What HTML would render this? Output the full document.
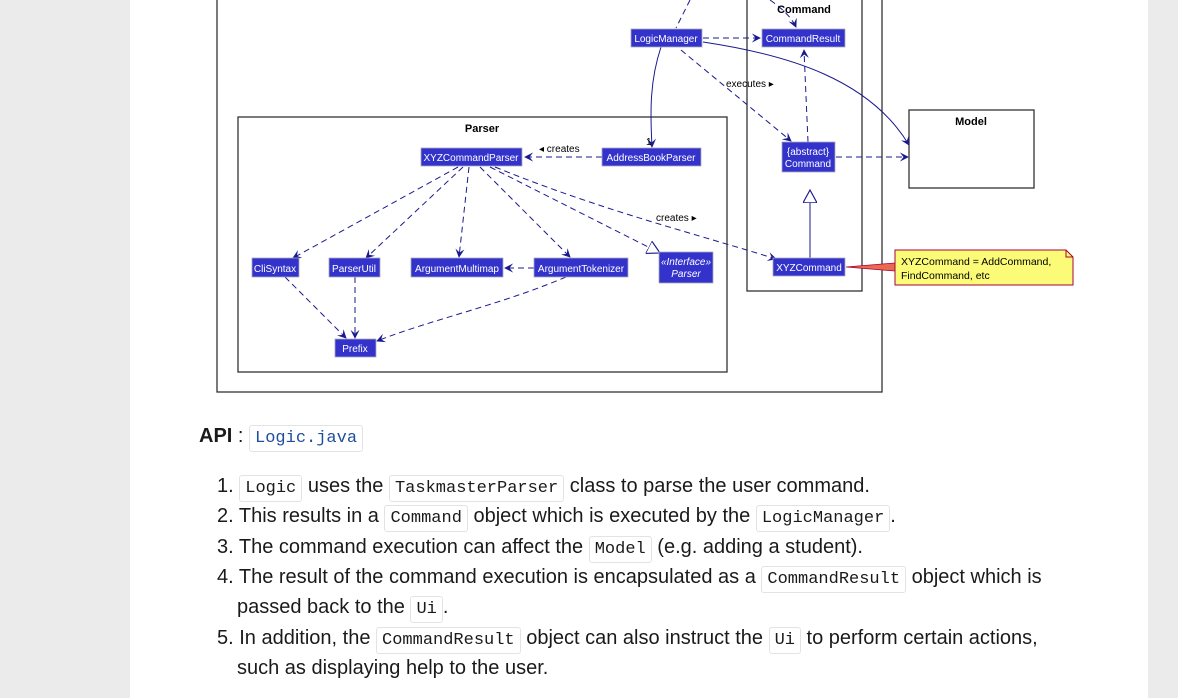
<!DOCTYPE html>
<html><head><style>
html,body{margin:0;padding:0;width:1178px;height:698px;overflow:hidden;background:#ebebeb;font-family:"Liberation Sans",sans-serif;}
#page{position:absolute;left:130px;top:0;width:1018px;height:698px;background:#fff;}
svg{position:absolute;left:0;top:0;}
.l{position:absolute;white-space:nowrap;font-size:20px;color:#1a1a1a;line-height:24px;}
code{font-family:"Liberation Mono",monospace;font-size:17px;border:1px solid #e3e3e3;border-radius:3px;padding:3px 5px;background:#fff;}
</style></head><body>
<div id="page"></div>
<svg width="1178" height="698" viewBox="0 0 1178 698" font-family="Liberation Sans, sans-serif">
<defs>
<marker id="a" viewBox="0 0 10 10" refX="9" refY="5" markerWidth="9" markerHeight="9" orient="auto"><path d="M0,0 L10,5 L0,10 L4,5 Z" fill="#1a1a8f"/></marker>
<marker id="t" viewBox="0 0 12 12" refX="11" refY="6" markerWidth="14" markerHeight="14" orient="auto" markerUnits="userSpaceOnUse"><path d="M0,0 L11,6 L0,12 Z" fill="#fff" stroke="#1a1a8f"/></marker>
</defs>
<g fill="none" stroke="#333" stroke-width="1.3">
<rect x="217" y="-5" width="665" height="397"/>
<rect x="747" y="-5" width="115" height="296"/>
<rect x="238" y="117" width="489" height="255"/>
<rect x="909" y="110" width="125" height="78"/>
</g>
<g font-size="11" font-weight="bold" text-anchor="middle" fill="#000">
<text x="804" y="13">Command</text>
<text x="482" y="132">Parser</text>
<text x="971" y="125">Model</text>
</g>
<g fill="none" stroke="#1a1a8f" stroke-width="1" stroke-dasharray="6,4">
<path d="M690,0 L676,28"/>
<path d="M770,0 Q790,14 796,27" marker-end="url(#a)"/>
<path d="M703,38 L760,38" marker-end="url(#a)"/>
<path d="M681,50 L791,141" marker-end="url(#a)"/>
<path d="M808,142 L804,50" marker-end="url(#a)"/>
<path d="M836,157 L908,157" marker-end="url(#a)"/>
<path d="M602,157 L525,157" marker-end="url(#a)"/>
<path d="M458,167 L293,258" marker-end="url(#a)"/>
<path d="M463,167 L366,258" marker-end="url(#a)"/>
<path d="M469,167 L459,257" marker-end="url(#a)"/>
<path d="M480,167 L570,257" marker-end="url(#a)"/>
<path d="M490,167 L660,253" marker-end="url(#t)"/>
<path d="M495,167 C600,210 700,235 776,259" marker-end="url(#a)"/>
<path d="M534,268 L505,268" marker-end="url(#a)"/>
<path d="M285,277 L346,338" marker-end="url(#a)"/>
<path d="M355,277 L355,338" marker-end="url(#a)"/>
<path d="M566,277 C500,305 430,320 377,341" marker-end="url(#a)"/>
</g>
<g fill="none" stroke="#1a1a8f" stroke-width="1">
<path d="M661,47 C650,80 650,110 652,147" marker-end="url(#a)"/>
<path d="M703,42 C790,55 870,80 909,145" marker-end="url(#a)"/>
<path d="M810,258 L810,190" marker-end="url(#t)"/>
</g>
<g font-size="10" fill="#000">
<text x="726" y="87">executes ▸</text>
<text x="539" y="152">◂ creates</text>
<text x="656" y="221">creates ▸</text>
<text x="646" y="145">1</text>
</g>
<g fill="#3333cc" stroke="#aab" stroke-width="0.8">
<rect x="631" y="29" width="71" height="18"/>
<rect x="762" y="29" width="83" height="18"/>
<rect x="602" y="148" width="99" height="18"/>
<rect x="421" y="148" width="101" height="18"/>
<rect x="782" y="142" width="53" height="30"/>
<rect x="773" y="258" width="72" height="18"/>
<rect x="252" y="258" width="47" height="19"/>
<rect x="329" y="258" width="51" height="19"/>
<rect x="411" y="258" width="92" height="19"/>
<rect x="534" y="258" width="94" height="19"/>
<rect x="659" y="252" width="54" height="31"/>
<rect x="335" y="339" width="41" height="18"/>
</g>
<g font-size="10" fill="#fff" text-anchor="middle">
<text x="666" y="42">LogicManager</text>
<text x="803" y="42">CommandResult</text>
<text x="651" y="161">AddressBookParser</text>
<text x="471" y="161">XYZCommandParser</text>
<text x="808" y="155">{abstract}</text>
<text x="808" y="167">Command</text>
<text x="809" y="271">XYZCommand</text>
<text x="275" y="272">CliSyntax</text>
<text x="354" y="272">ParserUtil</text>
<text x="457" y="272">ArgumentMultimap</text>
<text x="581" y="272">ArgumentTokenizer</text>
<text x="686" y="265" font-style="italic">«Interface»</text>
<text x="686" y="277" font-style="italic">Parser</text>
<text x="355" y="352">Prefix</text>
</g>
<path d="M846,267 L895,263 L895,271 Z" fill="#e86a50" stroke="#a80036" stroke-width="0.8"/>
<path d="M895,250 L1066,250 L1073,257 L1073,285 L895,285 Z" fill="#fbfb77" stroke="#a80036" stroke-width="1"/>
<path d="M1066,250 L1066,257 L1073,257" fill="none" stroke="#a80036" stroke-width="1"/>
<g font-size="10.5" fill="#000"><text x="901" y="265">XYZCommand = AddCommand,</text><text x="901" y="279">FindCommand, etc</text></g>
</svg>
<div class="l" style="left:199px;top:424px;"><b>API</b> : <code style="color:#1f4e9c">Logic.java</code></div>
<div class="l" style="left:217px;top:474px;">1. <code>Logic</code> uses the <code>TaskmasterParser</code> class to parse the user command.</div>
<div class="l" style="left:217px;top:504px;">2. This results in a <code>Command</code> object which is executed by the <code>LogicManager</code>.</div>
<div class="l" style="left:217px;top:535px;">3. The command execution can affect the <code>Model</code> (e.g. adding a student).</div>
<div class="l" style="left:217px;top:565px;">4. The result of the command execution is encapsulated as a <code>CommandResult</code> object which is</div>
<div class="l" style="left:237px;top:595px;">passed back to the <code>Ui</code>.</div>
<div class="l" style="left:217px;top:626px;">5. In addition, the <code>CommandResult</code> object can also instruct the <code>Ui</code> to perform certain actions,</div>
<div class="l" style="left:237px;top:656px;">such as displaying help to the user.</div>
</body></html>
